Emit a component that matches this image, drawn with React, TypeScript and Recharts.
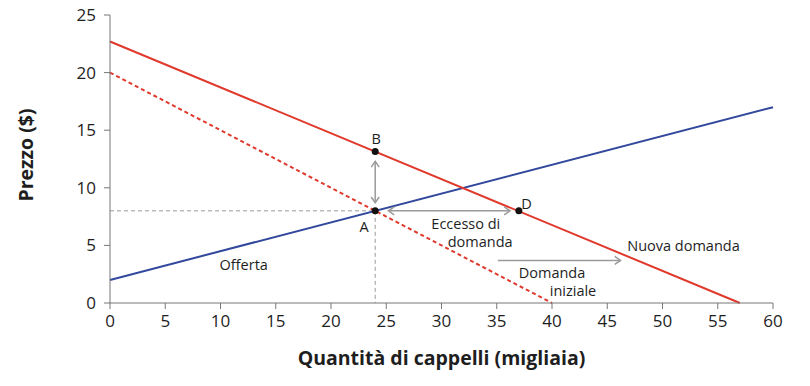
import React from "react";
import {
  ComposedChart, Line, XAxis, YAxis, ReferenceLine, ReferenceDot,
} from "recharts";

// prix / quantités
const xTicks = [0, 5, 10, 15, 20, 25, 30, 35, 40, 45, 50, 55, 60];
const yTicks = [0, 5, 10, 15, 20, 25];

const supply = [{ q: 0, p: 2 }, { q: 60, p: 17 }];
const initialDemand = [{ q: 0, p: 20 }, { q: 40, p: 0 }];
const newDemand = [{ q: 0, p: 22.7 }, { q: 57, p: 0 }];

const points = [
  { name: "A", q: 24, p: 8 },
  { name: "B", q: 24, p: 13.15 },
  { name: "D", q: 37, p: 8 },
];

const labels = [
  { text: "B", q: 24.1, p: 14.3 },
  { text: "A", q: 23, p: 6.6 },
  { text: "D", q: 37.7, p: 8.6 },
  { text: "Eccesso di", q: 32.2, p: 6.9 },
  { text: "domanda", q: 33.5, p: 5.3 },
  { text: "Offerta", q: 12.1, p: 3.3 },
  { text: "Nuova domanda", q: 51.9, p: 5.0 },
  { text: "Domanda", q: 40, p: 2.65 },
  { text: "iniziale", q: 41.9, p: 1.1 },
];

const RED = "#e0392c";
const BLUE = "#31489c";
const GREY = "#9a9a9a";
const TEXT = "#1e1e1e";
const FONT = "'Open Sans', 'Noto Sans', sans-serif";

function head(x: number, y: number, ang: number) {
  const s = 7;
  const a1 = ang + Math.PI - 0.6;
  const a2 = ang + Math.PI + 0.6;
  return `M${x + s * Math.cos(a1)},${y + s * Math.sin(a1)} L${x},${y} L${x + s * Math.cos(a2)},${y + s * Math.sin(a2)}`;
}

const arrow = (both: boolean) => (props: any) => {
  const { x1, y1, x2, y2 } = props;
  const ang = Math.atan2(y2 - y1, x2 - x1);
  return (
    <g>
      <line x1={x1} y1={y1} x2={x2} y2={y2} stroke={GREY} strokeWidth={1.5} />
      <path d={head(x2, y2, ang)} fill="none" stroke={GREY} strokeWidth={1.5} />
      {both && <path d={head(x1, y1, ang + Math.PI)} fill="none" stroke={GREY} strokeWidth={1.5} />}
    </g>
  );
};

export default function App() {
  return (
    <div style={{ position: "absolute", left: 0, top: 0, width: 810, height: 386, background: "#fff" }}>
      <ComposedChart width={810} height={386} margin={{ top: 15, right: 37, left: 0, bottom: 0 }}>
        <XAxis
          dataKey="q"
          type="number"
          domain={[0, 60]}
          ticks={xTicks}
          height={83}
          axisLine={{ stroke: "#777" }}
          tickLine={{ stroke: "#777" }}
          tickSize={6}
          tickMargin={6}
          tick={{ fill: TEXT, fontSize: 17, fontFamily: FONT }}
          label={{
            value: "Quantità di cappelli (migliaia)",
            position: "insideBottom",
            offset: 21,
            style: { fill: TEXT, fontSize: 19.5, fontWeight: 700, fontFamily: FONT },
          }}
        />
        <YAxis
          type="number"
          domain={[0, 25]}
          ticks={yTicks}
          width={110}
          axisLine={{ stroke: "#777" }}
          tickLine={{ stroke: "#777" }}
          tickSize={6}
          tickMargin={8}
          tick={{ fill: TEXT, fontSize: 17, fontFamily: FONT }}
          label={{
            value: "Prezzo ($)",
            angle: -90,
            position: "insideLeft",
            offset: 26,
            dy: -4,
            style: { fill: TEXT, fontSize: 19.5, fontWeight: 700, fontFamily: FONT, textAnchor: "middle" },
          }}
        />

        <ReferenceLine segment={[{ x: 0, y: 8 }, { x: 24, y: 8 }]} stroke={GREY} strokeDasharray="4 3" />
        <ReferenceLine segment={[{ x: 24, y: 8 }, { x: 24, y: 0 }]} stroke={GREY} strokeDasharray="4 3" />

        <Line data={supply} dataKey="p" stroke={BLUE} strokeWidth={2} dot={false} isAnimationActive={false} />
        <Line data={initialDemand} dataKey="p" stroke={RED} strokeWidth={2} strokeDasharray="4 3" dot={false} isAnimationActive={false} />
        <Line data={newDemand} dataKey="p" stroke={RED} strokeWidth={2} dot={false} isAnimationActive={false} />

        <ReferenceLine segment={[{ x: 24, y: 8.7 }, { x: 24, y: 12.3 }]} shape={arrow(true)} />
        <ReferenceLine segment={[{ x: 25.2, y: 8 }, { x: 36.2, y: 8 }]} shape={arrow(true)} />
        <ReferenceLine segment={[{ x: 35.1, y: 3.7 }, { x: 46.2, y: 3.7 }]} shape={arrow(false)} />

        {points.map((pt) => (
          <ReferenceDot key={pt.name} x={pt.q} y={pt.p} r={3.5} fill="#111" stroke="none" />
        ))}

        {labels.map((l) => (
          <ReferenceDot
            key={l.text}
            x={l.q}
            y={l.p}
            r={0}
            shape={(p: any) => (
              <text
                x={p.cx}
                y={p.cy}
                textAnchor="middle"
                dominantBaseline="central"
                fill={TEXT}
                fontSize={14.5}
                fontFamily={FONT}
              >
                {l.text}
              </text>
            )}
          />
        ))}
      </ComposedChart>
    </div>
  );
}
